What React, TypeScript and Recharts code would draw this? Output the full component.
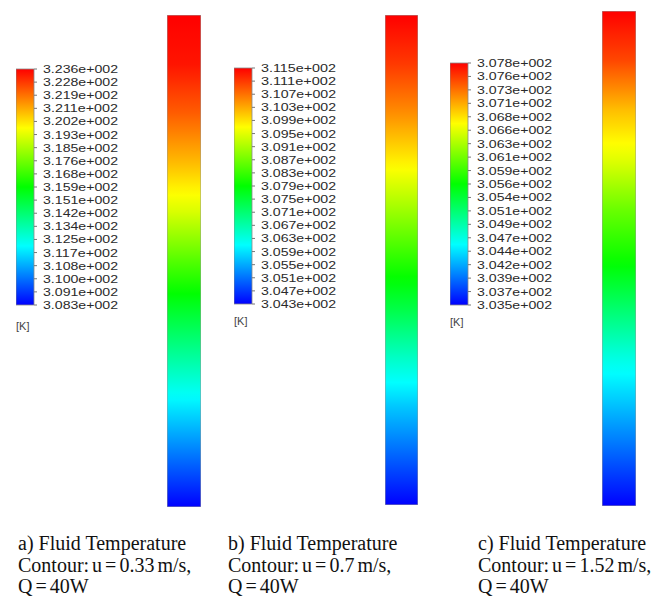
import React from "react";
import { BarChart, Bar, XAxis, YAxis } from "recharts";

// legend tick labels (K), top to bottom as printed
const ticksA = [323.6, 322.8, 321.9, 321.1, 320.2, 319.3, 318.5, 317.6, 316.8, 315.9, 315.1, 314.2, 313.4, 312.5, 311.7, 310.8, 310.0, 309.1, 308.3];
const ticksB = [311.5, 311.1, 310.7, 310.3, 309.9, 309.5, 309.1, 308.7, 308.3, 307.9, 307.5, 307.1, 306.7, 306.3, 305.9, 305.5, 305.1, 304.7, 304.3];
const ticksC = [307.8, 307.6, 307.3, 307.1, 306.8, 306.6, 306.3, 306.1, 305.9, 305.6, 305.4, 305.1, 304.9, 304.7, 304.4, 304.2, 303.9, 303.7, 303.5];

// temperature along the column, bottom (0) to top (1)
const heights = [0, 0.1, 0.2, 0.3, 0.4, 0.5, 0.6, 0.7, 0.8, 0.9, 1.0];
const profileA = [308.3, 310.0, 311.7, 313.5, 315.3, 317.2, 319.2, 320.8, 322.2, 323.3, 323.6];
const profileB = [304.3, 305.0, 305.7, 306.5, 307.4, 308.2, 309.0, 309.8, 310.5, 311.1, 311.5];
const profileC = [303.5, 303.9, 304.3, 304.7, 305.2, 305.7, 306.1, 306.6, 307.0, 307.5, 307.8];

const captions = [
  ["a) Fluid Temperature", "Contour: u = 0.33 m/s,", "Q = 40W"],
  ["b) Fluid Temperature", "Contour: u = 0.7 m/s,", "Q = 40W"],
  ["c) Fluid Temperature", "Contour: u = 1.52 m/s,", "Q = 40W"],
];

// fluent-style rainbow: blue, cyan, green, yellow, red
const rainbow = [
  [0, 0, 255],
  [0, 255, 255],
  [0, 255, 0],
  [255, 255, 0],
  [255, 0, 0],
];

function colormap(f: number) {
  const t = Math.max(0, Math.min(1, f)) * 4;
  const i = Math.min(3, Math.floor(t));
  const k = t - i;
  const a = rainbow[i];
  const b = rainbow[i + 1];
  const c = a.map((v, j) => Math.round(v + (b[j] - v) * k));
  return `rgb(${c[0]},${c[1]},${c[2]})`;
}

const fmt = (v: number) => (v / 100).toFixed(3) + "e+002";

function LegendTick(props: any) {
  const { x, y, payload, labels } = props;
  // levels are evenly spaced; index counts from the bottom
  const text = fmt(labels[labels.length - 1 - payload.value]);
  return (
    <text
      x={x}
      y={y}
      dy={4}
      textAnchor="start"
      fontFamily="Liberation Sans, Arial, sans-serif"
      fontSize={11.5}
      fill="#2a2a2a"
      textLength={75}
      lengthAdjust="spacingAndGlyphs"
    >
      {text}
    </text>
  );
}

function ColorLegend({ id, ticks, left, top, height, kGap }: { id: string; ticks: number[]; left: number; top: number; height: number; kGap: number }) {
  const n = ticks.length - 1;
  const data = [{ name: "T", span: [0, n] }];
  const idx = ticks.map((_, i) => i);
  const stops = [0, 0.25, 0.5, 0.75, 1];
  return (
    <div style={{ position: "absolute", left, top: top - 8 }}>
      <BarChart width={110} height={height + 16} data={data} margin={{ top: 8, right: 0, bottom: 8, left: 0 }} barCategoryGap={0}>
        <defs>
          <linearGradient id={id} x1="0" y1="0" x2="0" y2="1">
            {stops.map((s) => (
              <stop key={s} offset={`${s * 100}%`} stopColor={colormap(1 - s)} />
            ))}
          </linearGradient>
        </defs>
        <XAxis dataKey="name" hide />
        <YAxis
          orientation="right"
          type="number"
          domain={[0, n]}
          ticks={idx}
          interval={0}
          width={92}
          axisLine={false}
          tickLine={{ stroke: "#777" }}
          tickSize={3}
          tickMargin={6}
          tick={<LegendTick labels={ticks} />}
        />
        <Bar dataKey="span" fill={`url(#${id})`} stroke="#888" strokeWidth={0.8} isAnimationActive={false} />
      </BarChart>
      <div
        style={{
          position: "absolute",
          left: 0,
          top: height + 16 + kGap,
          fontFamily: "Liberation Sans, Arial, sans-serif",
          fontSize: 11,
          color: "#444",
        }}
      >
        [K]
      </div>
    </div>
  );
}

function Column({ id, profile, left, top, width, height }: { id: string; profile: number[]; left: number; top: number; width: number; height: number }) {
  const lo = profile[0];
  const hi = profile[profile.length - 1];
  // sample the profile finely so the gradient passes through every rainbow colour
  const stops: { off: number; color: string }[] = [];
  for (let i = 0; i < heights.length - 1; i++) {
    for (let s = 0; s < 6; s++) {
      const k = s / 6;
      const h = heights[i] + (heights[i + 1] - heights[i]) * k;
      const T = profile[i] + (profile[i + 1] - profile[i]) * k;
      stops.push({ off: 1 - h, color: colormap((T - lo) / (hi - lo)) });
    }
  }
  stops.push({ off: 0, color: colormap(1) });
  const data = [{ name: "col", h: heights[heights.length - 1] }];
  return (
    <div style={{ position: "absolute", left, top }}>
      <BarChart width={width} height={height} data={data} margin={{ top: 0, right: 0, bottom: 0, left: 0 }} barCategoryGap={0}>
        <defs>
          <linearGradient id={id} x1="0" y1="0" x2="0" y2="1">
            {stops
              .slice()
              .reverse()
              .map((s, i) => (
                <stop key={i} offset={`${(s.off * 100).toFixed(2)}%`} stopColor={s.color} />
              ))}
          </linearGradient>
        </defs>
        <XAxis dataKey="name" hide />
        <YAxis hide domain={[0, 1]} />
        <Bar dataKey="h" fill={`url(#${id})`} stroke="#999" strokeWidth={1} isAnimationActive={false} />
      </BarChart>
    </div>
  );
}

function Caption({ lines, left }: { lines: string[]; left: number }) {
  return (
    <div
      style={{
        position: "absolute",
        left,
        top: 533,
        fontFamily: "Liberation Serif, 'Times New Roman', serif",
        fontSize: 20,
        lineHeight: "21.5px",
        color: "#111",
        whiteSpace: "nowrap",
      }}
    >
      {lines.map((l, i) => (
        // the "=" lines are set tighter in the original
        <div key={l} style={{ wordSpacing: i === 0 ? 0 : -2 }}>
          {l}
        </div>
      ))}
    </div>
  );
}

export default function App() {
  return (
    <div style={{ position: "absolute", left: 0, top: 0, width: 662, height: 599, background: "#fff", overflow: "hidden" }}>
      <ColorLegend id="legA" ticks={ticksA} left={16} top={69} height={236} kGap={7} />
      <ColorLegend id="legB" ticks={ticksB} left={234} top={68} height={236} kGap={3} />
      <ColorLegend id="legC" ticks={ticksC} left={450} top={63} height={242} kGap={3} />

      <Column id="colA" profile={profileA} left={167} top={15} width={34} height={492} />
      <Column id="colB" profile={profileB} left={385} top={15} width={33} height={490} />
      <Column id="colC" profile={profileC} left={602} top={11} width={34} height={495} />

      <Caption lines={captions[0]} left={18} />
      <Caption lines={captions[1]} left={228} />
      <Caption lines={captions[2]} left={478} />
    </div>
  );
}
